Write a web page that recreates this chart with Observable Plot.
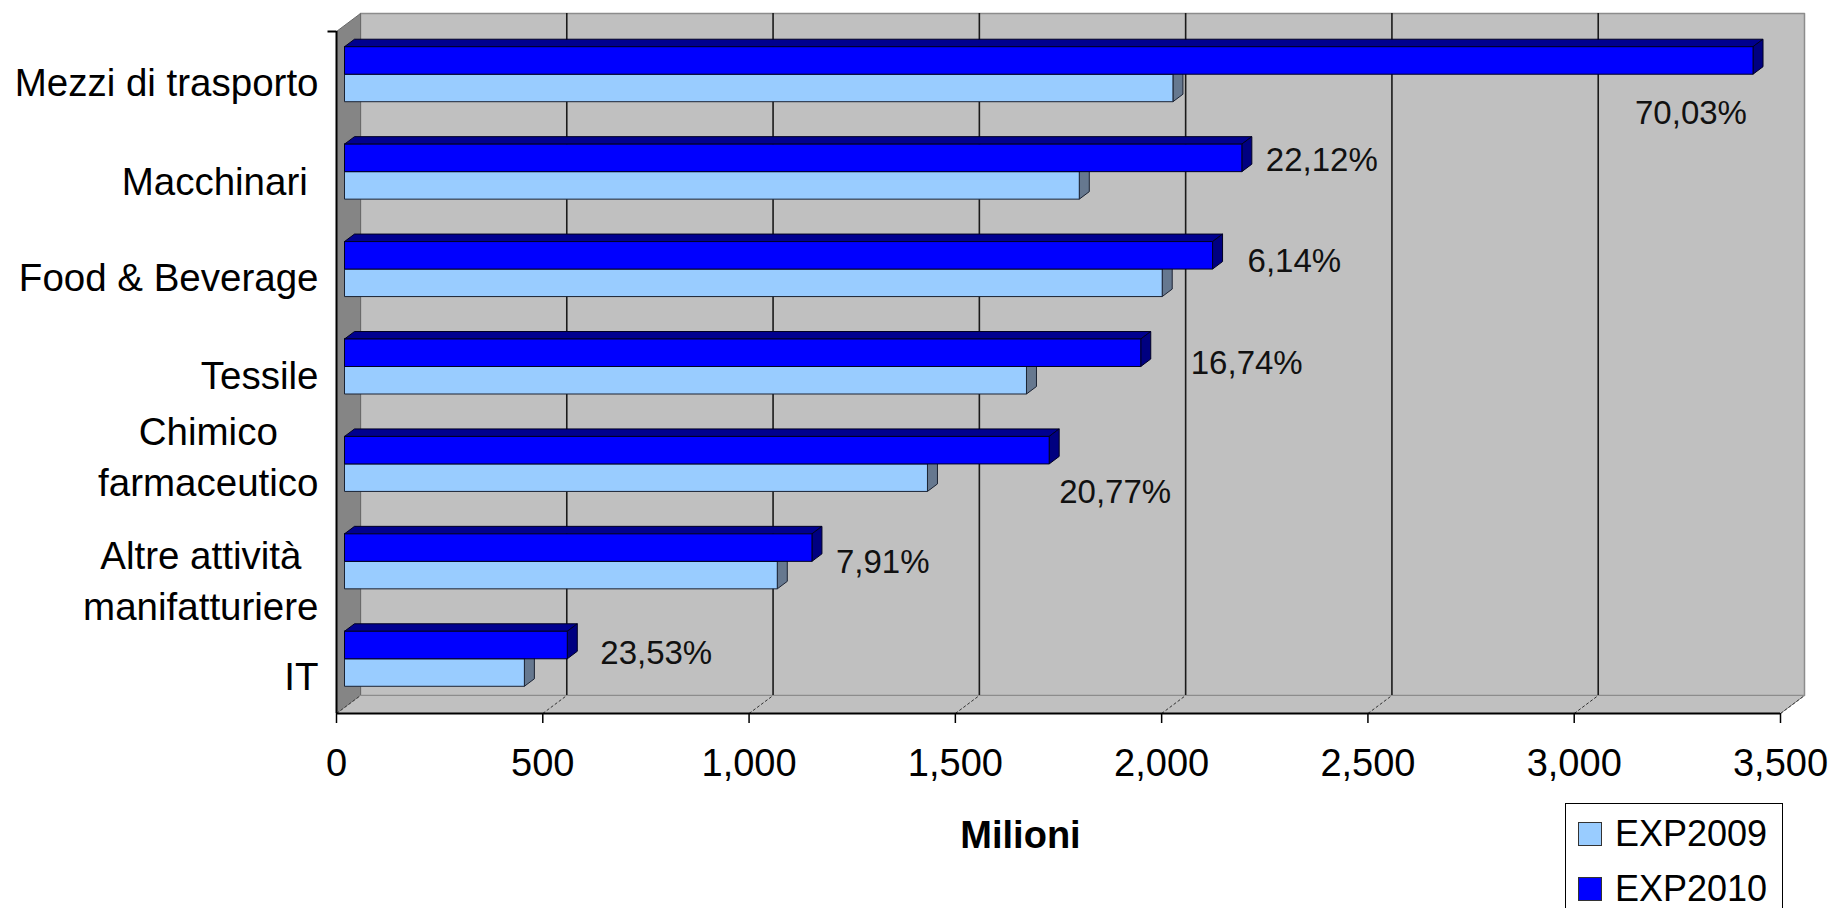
<!DOCTYPE html>
<html>
<head>
<meta charset="utf-8">
<script src="https://cdn.jsdelivr.net/npm/d3@7"></script>
<script src="https://cdn.jsdelivr.net/npm/@observablehq/plot@0.6"></script>
<style>
  html, body { margin: 0; padding: 0; background: #fff; overflow: hidden; width: 1831px; height: 908px; }
  #chart { position: relative; width: 1831px; height: 908px; }
  #legend { position: absolute; left: 1565px; top: 803px; width: 218px; height: 130px; border: 1.5px solid #000;
            background: #fff; box-sizing: border-box; font-family: "Liberation Sans", Arial, sans-serif; font-size: 36px; color: #000; }
  #legend .row { position: absolute; left: 12px; height: 40px; display: flex; align-items: center; }
  #legend .sw { width: 24px; height: 24px; box-sizing: border-box; border: 1px solid #333; margin-right: 13px; }
</style>
</head>
<body>
<div id="chart"></div>
<script>
// ---------- data ----------
const categories = ["Mezzi di trasporto", "Macchinari ", "Food & Beverage", "Tessile", "Chimico\nfarmaceutico", "Altre attività\nmanifatturiere", "IT"];
const exp2009 = [2008, 1781, 1982, 1653, 1413, 1049, 436];
const exp2010 = [3414, 2175, 2104, 1930, 1708, 1133, 540];
const growthLabels = ["70,03%", "22,12%", "6,14%", "16,74%", "20,77%", "7,91%", "23,53%"];
const xTicks = [0, 500, 1000, 1500, 2000, 2500, 3000, 3500];
const seriesNames = ["EXP2009", "EXP2010"];

// ---------- layout / style ----------
const W = 1831, H = 908;
const mL = 336, mR = 51, mT = 31, mB = 195;
const xMax = 3500, nCat = categories.length;
const pxPerUnit = (W - mL - mR) / xMax;
const slotPx = (H - mT - mB) / nCat;
const depthDX = 24, depthDY = 18;              // back wall offset in px
const kx = depthDX / pxPerUnit, ky = depthDY / slotPx;
const dFront = 1 / 3, dBack = 0.75;            // bar depth range
const barH = 27.5 / slotPx;                    // bar thickness in slots
const font = '"Liberation Sans", Arial, sans-serif';
const colors = {
  EXP2009: {front: "#99ccff", top: "#7396c4", side: "#66788f", stroke: "#1b2333"},
  EXP2010: {front: "#0000ff", top: "#00008f", side: "#000080", stroke: "#000022"}
};
// per-label nudges of growth labels (px) relative to the 2010 bar end
const labelNudge = [[-110, 47], [32, -3], [43, 0], [58, 5], [18, 36], [32, 9], [41, 2]];
// vertical nudges of category labels (px)
const catLabelDy = [-1, 0, -1, -1, -17, 10, 8];

const proj = (v, s, d) => [v + d * kx, s - d * ky];
const poly = (id, pts) => [...pts, pts[0]].map(([x, y]) => ({id, x, y}));

// walls & floor
const backWall = poly("back", [proj(0, 0, 1), proj(xMax, 0, 1), proj(xMax, nCat, 1), proj(0, nCat, 1)]);
const leftWall = poly("left", [proj(0, 0, 0), proj(0, 0, 1), proj(0, nCat, 1), proj(0, nCat, 0)]);
const floor = poly("floor", [proj(0, nCat, 0), proj(xMax, nCat, 0), proj(xMax, nCat, 1), proj(0, nCat, 1)]);

// bars
function barFaces(values, series, offset) {
  const top = [], side = [], front = [];
  values.forEach((v, i) => {
    const y1 = i + 0.5 + offset, y2 = y1 + barH;
    front.push(...poly(series + i, [proj(0, y1, dFront), proj(v, y1, dFront), proj(v, y2, dFront), proj(0, y2, dFront)]));
    top.push(...poly(series + i, [proj(0, y1, dFront), proj(v, y1, dFront), proj(v, y1, dBack), proj(0, y1, dBack)]));
    side.push(...poly(series + i, [proj(v, y1, dFront), proj(v, y1, dBack), proj(v, y2, dBack), proj(v, y2, dFront)]));
  });
  return {top, side, front};
}
const bars2009 = barFaces(exp2009, "EXP2009", 0);
const bars2010 = barFaces(exp2010, "EXP2010", -barH);

const faceMarks = (faces, series) => ["top", "side", "front"].map(f =>
  Plot.line(faces[f], {x: "x", y: "y", z: "id", fill: colors[series][f], stroke: colors[series].stroke, strokeWidth: 1, curve: "linear"}));

// category label widths for centred multi-line labels
const ctx = document.createElement("canvas").getContext("2d");
ctx.font = `38.5px ${font}`;
const catLabelMarks = categories.map((c, i) => {
  const w = d3.max(c.split("\n"), l => ctx.measureText(l).width);
  return Plot.text([i], {
    y: d => d + 0.5, frameAnchor: "left", text: () => c,
    textAnchor: "middle", lineAnchor: "middle", lineHeight: 1.32,
    dx: -(18 + w / 2), dy: 1 + catLabelDy[i], fontSize: 38.5, fill: "#000"
  });
});

const growthMarks = categories.map((c, i) => Plot.text([i], {
  x: d => exp2010[d], y: d => d + 0.5 - barH / 2, text: d => growthLabels[d],
  textAnchor: "start", lineAnchor: "middle", dx: labelNudge[i][0], dy: labelNudge[i][1],
  fontSize: 33, fill: "#111"
}));

const gridTicks = xTicks.filter(t => t > 0 && t < xMax);

const chart = Plot.plot({
  width: W, height: H,
  marginLeft: mL, marginRight: mR, marginTop: mT, marginBottom: mB,
  x: {domain: [0, xMax]},
  y: {domain: [0, nCat], reverse: true, axis: null},
  style: {fontFamily: font, background: "#fff", overflow: "visible"},
  marks: [
    Plot.line(backWall, {x: "x", y: "y", z: "id", fill: "#c0c0c0", stroke: "#8c8c8c", strokeWidth: 1.5}),
    Plot.line(leftWall, {x: "x", y: "y", z: "id", fill: "#858585", stroke: "#6a6a6a", strokeWidth: 1}),
    Plot.line(floor, {x: "x", y: "y", z: "id", fill: "#c0c0c0", stroke: "#8c8c8c", strokeWidth: 1}),
    Plot.ruleX(gridTicks, {x: d => d, y1: 0, y2: nCat, dx: depthDX, dy: -depthDY, stroke: "#1a1a1a", strokeWidth: 1.6}),
    Plot.link(xTicks, {x1: d => d, y1: nCat, x2: d => d + kx, y2: nCat - ky, stroke: "#333", strokeWidth: 1, strokeDasharray: "3,2"}),
    ...faceMarks(bars2009, "EXP2009"),
    ...faceMarks(bars2010, "EXP2010"),
    Plot.ruleY([nCat], {x1: 0, x2: xMax, stroke: "#000", strokeWidth: 2}),
    Plot.ruleX([0], {y1: 0, y2: nCat, stroke: "#000", strokeWidth: 2}),
    Plot.link([0], {x1: 0, x2: -9 / pxPerUnit, y1: 0, y2: 0, stroke: "#000", strokeWidth: 2}),
    Plot.axisX({ticks: xTicks, tickFormat: d3.format(","), tickSize: 10, tickPadding: 26, fontSize: 38, color: "#000", strokeWidth: 1.5, label: null}),
    Plot.text(["Milioni"], {frameAnchor: "bottom", text: d => d, dx: -38, dy: 122, lineAnchor: "middle", fontSize: 38, fontWeight: "bold", fill: "#000"}),
    ...catLabelMarks,
    ...growthMarks
  ]
});
document.getElementById("chart").appendChild(chart);

// legend
const legend = document.createElement("div");
legend.id = "legend";
seriesNames.forEach((s, i) => {
  const row = document.createElement("div");
  row.className = "row";
  row.style.top = (10 + i * 55) + "px";
  const sw = document.createElement("div");
  sw.className = "sw";
  sw.style.background = colors[s].front;
  const tx = document.createElement("span");
  tx.textContent = s;
  row.appendChild(sw); row.appendChild(tx);
  legend.appendChild(row);
});
document.getElementById("chart").appendChild(legend);
</script>
</body>
</html>
